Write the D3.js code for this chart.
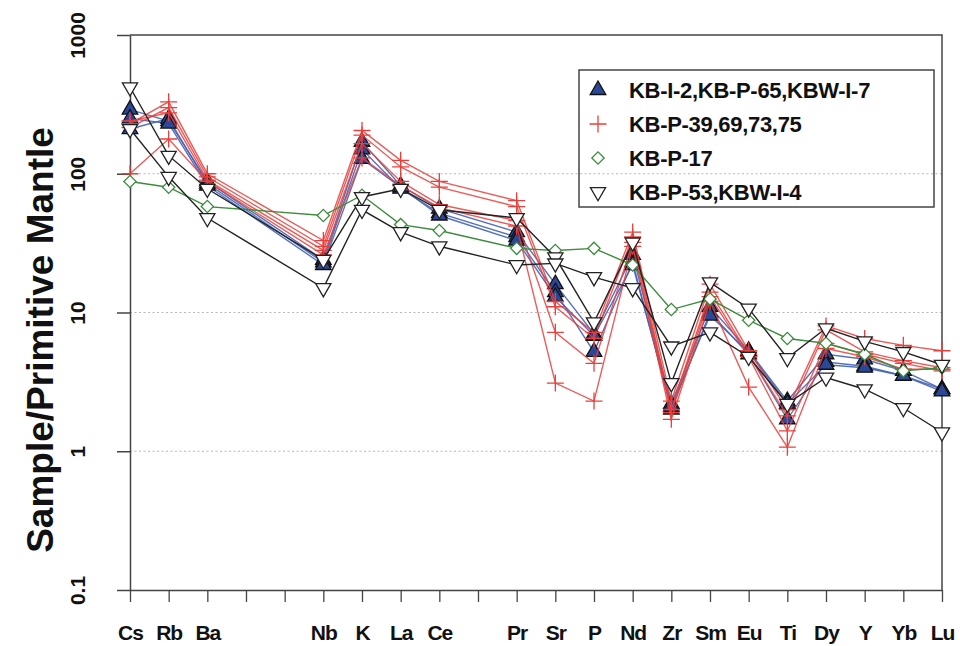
<!DOCTYPE html>
<html>
<head>
<meta charset="utf-8">
<script src="https://cdn.jsdelivr.net/npm/d3@7"></script>
<style>
body { margin: 0; background: #fff; }
svg { font-family: "Liberation Sans", Arial, sans-serif; }
</style>
</head>
<body>
<script>
// Axis slots (blank slots are elements not shown)
var slots = ["Cs", "Rb", "Ba", "", "", "Nb", "K", "La", "Ce", "", "Pr", "Sr", "P", "Nd", "Zr", "Sm", "Eu", "Ti", "Dy", "Y", "Yb", "Lu"];
var elements = ["Cs", "Rb", "Ba", "Nb", "K", "La", "Ce", "Pr", "Sr", "P", "Nd", "Zr", "Sm", "Eu", "Ti", "Dy", "Y", "Yb", "Lu"];
var yTicks = [0.1, 1, 10, 100, 1000];
var gridTicks = [1, 10, 100];

// KB-I-2, KB-P-65, KBW-I-7
var blueSamples = [
    [290, 240, 88, 24, 170, 82, 56, 38, 16, 7.0, 26, 2.2, 11, 5.3, 2.3, 5.0, 4.6, 3.8, 2.8],
    [210, 250, 85, 23, 150, 78, 52, 35, 14, 5.2, 23, 2.0, 10, 5.0, 1.7, 4.4, 4.1, 3.5, 2.8],
    [250, 230, 82, 22, 128, 80, 50, 33, 13, 6.8, 22, 2.1, 9.5, 5.2, 2.2, 4.2, 4.0, 3.5, 2.7]
];
// KB-P-39, 69, 73, 75
var redSamples = [
    [230, 330, 100, 33, 205, 125, 88, 64, 12, 7.2, 38, 2.3, 16, 5.3, 2.0, 8.0, 6.5, 5.8, 5.3],
    [215, 300, 95, 30, 190, 112, 80, 58, 11, 6.5, 35, 2.0, 14, 5.0, 1.8, 7.5, 5.2, 4.5, 4.0],
    [240, 275, 90, 28, 165, 88, 60, 46, 7.2, 4.3, 32, 1.9, 13, 4.8, 1.4, 6.0, 5.0, 4.3, 3.8],
    [100, 178, 88, 26, 130, 82, 57, 42, 3.1, 2.3, 30, 1.7, 12, 2.9, 1.07, 5.5, 4.8, 3.9, 3.9]
];
// KB-P-17
var greenSamples = [
    [88, 80, 58, 50, 70, 43, 39, 29, 28, 29, 22, 10.5, 12.5, 8.8, 6.5, 6.0, 5.0, 3.8, 4.0]
];
// KB-P-53, KBW-I-4
var blackSamples = [
    [420, 135, 78, 24, 68, 78, 55, 48, 25, 8.5, 32, 3.1, 16.5, 10.7, 4.7, 7.7, 6.2, 5.2, 4.2],
    [210, 95, 48, 15, 55, 38, 30, 22, 22.6, 18, 15, 5.7, 7.2, 4.8, 2.2, 3.4, 2.8, 2.05, 1.37]
];
var legendLabels = ["KB-I-2,KB-P-65,KBW-I-7", "KB-P-39,69,73,75", "KB-P-17", "KB-P-53,KBW-I-4"];

var outerWidth = 960, outerHeight = 646;
var plot = { left: 130, right: 942, top: 35, bottom: 590 };

var svg = d3.select("body").append("svg")
    .attr("width", outerWidth)
    .attr("height", outerHeight);

var xScale = d3.scalePoint()
    .domain(d3.range(slots.length))
    .range([plot.left, plot.right]);
var yScale = d3.scaleLog()
    .domain([0.1, 1000])
    .range([plot.bottom, plot.top]);

// dotted grid
svg.append("g").selectAll("line")
    .data(gridTicks)
    .enter().append("line")
        .attr("x1", plot.left).attr("x2", plot.right)
        .attr("y1", function (d) { return yScale(d); })
        .attr("y2", function (d) { return yScale(d); })
        .attr("stroke", "#b8b8b8")
        .attr("stroke-width", 1.2)
        .attr("stroke-dasharray", "2,2.5");

// frame (top + right)
svg.append("path")
    .attr("d", "M" + plot.left + "," + plot.top + "H" + plot.right + "V" + plot.bottom)
    .attr("fill", "none")
    .attr("stroke", "#444")
    .attr("stroke-width", 1.5);

// x axis
var xAxis = svg.append("g")
    .attr("transform", "translate(0," + plot.bottom + ")")
    .call(d3.axisBottom(xScale).tickSize(12).tickPadding(25).tickSizeOuter(0)
        .tickFormat(function (i) { return slots[i]; }));
xAxis.select(".domain").attr("stroke", "#444").attr("stroke-width", 1.5);
xAxis.selectAll(".tick line").attr("stroke", "#444").attr("stroke-width", 1.3);
xAxis.selectAll(".tick text")
    .attr("fill", "#111")
    .attr("font-size", 21)
    .attr("font-weight", "bold")
    .attr("letter-spacing", "-1")
    .attr("dy", "0.6em");

// y axis
var yAxis = svg.append("g")
    .attr("transform", "translate(" + plot.left + ",0)")
    .call(d3.axisLeft(yScale).tickValues(yTicks).tickSize(13).tickSizeOuter(0)
        .tickFormat(function (d) { return d < 1 ? "0.1" : d3.format("d")(d); }));
yAxis.select(".domain").attr("stroke", "#444").attr("stroke-width", 1.5);
yAxis.selectAll(".tick line").attr("stroke", "#444").attr("stroke-width", 1.5);
yAxis.selectAll(".tick text")
    .attr("fill", "#111")
    .attr("font-size", 21)
    .attr("font-weight", "bold")
    .attr("x", 0).attr("y", 0).attr("dy", null)
    .attr("text-anchor", "middle")
    .attr("transform", "translate(-45,0) rotate(-90)");

// y title
svg.append("text")
    .attr("transform", "translate(53,340) rotate(-90)")
    .attr("text-anchor", "middle")
    .attr("font-size", 37)
    .attr("font-weight", "bold")
    .attr("fill", "#111")
    .text("Sample/Primitive Mantle");

var line = d3.line()
    .x(function (d, i) { return xScale(slots.indexOf(elements[i])); })
    .y(function (d) { return yScale(d); });

var plusPath = "M-8.5,0H8.5M0,-8.5V8.5";
var groups = [
    { data: blueSamples, line: "#4463b3", lineOpacity: 0.9, marker: d3.symbol().type(d3.symbolTriangle).size(105)(), fill: "#2b4796", stroke: "#111", rotate: 0 },
    { data: redSamples, line: "#e8403c", lineOpacity: 0.85, marker: plusPath, fill: "none", stroke: "#e8403c", rotate: 0 },
    { data: greenSamples, line: "#3d8c3d", lineOpacity: 1, marker: d3.symbol().type(d3.symbolSquare).size(75)(), fill: "#fff", stroke: "#3d8c3d", rotate: 45 },
    { data: blackSamples, line: "#222", lineOpacity: 1, marker: d3.symbol().type(d3.symbolTriangle).size(100)(), fill: "#fff", stroke: "#222", rotate: 180 }
];

groups.forEach(function (grp) {
    var g = svg.append("g");
    grp.data.forEach(function (values) {
        g.append("path")
            .datum(values)
            .attr("d", line)
            .attr("fill", "none")
            .attr("stroke", grp.line)
            .attr("stroke-opacity", grp.lineOpacity)
            .attr("stroke-width", 1.4);
    });
    grp.data.forEach(function (values) {
        g.selectAll(null)
            .data(values)
            .enter().append("path")
                .attr("d", grp.marker)
                .attr("transform", function (d, i) {
                    return "translate(" + xScale(slots.indexOf(elements[i])) + "," + yScale(d) + ") rotate(" + grp.rotate + ")";
                })
                .attr("fill", grp.fill)
                .attr("stroke", grp.stroke)
                .attr("stroke-width", 1.3);
    });
});

// legend
var legend = svg.append("g").attr("transform", "translate(579,70)");
legend.append("rect")
    .attr("width", 355).attr("height", 137)
    .attr("fill", "none")
    .attr("stroke", "#444")
    .attr("stroke-width", 1.5);
var lgd = legend.selectAll("g.lgd")
    .data(legendLabels)
    .enter().append("g")
        .attr("class", "lgd")
        .attr("transform", function (d, i) { return "translate(0," + (20 + i * 34) + ")"; });
lgd.append("path")
    .attr("d", function (d, i) { return groups[i].marker; })
    .attr("transform", function (d, i) { return "translate(19,0) rotate(" + groups[i].rotate + ")"; })
    .attr("fill", function (d, i) { return groups[i].fill; })
    .attr("stroke", function (d, i) { return groups[i].stroke; })
    .attr("stroke-width", 1.3);
lgd.append("text")
    .attr("x", 50)
    .attr("dy", "0.36em")
    .attr("font-size", 22)
    .attr("font-weight", "bold")
    .attr("letter-spacing", "-0.3")
    .attr("fill", "#111")
    .text(function (d) { return d; });
</script>
</body>
</html>
